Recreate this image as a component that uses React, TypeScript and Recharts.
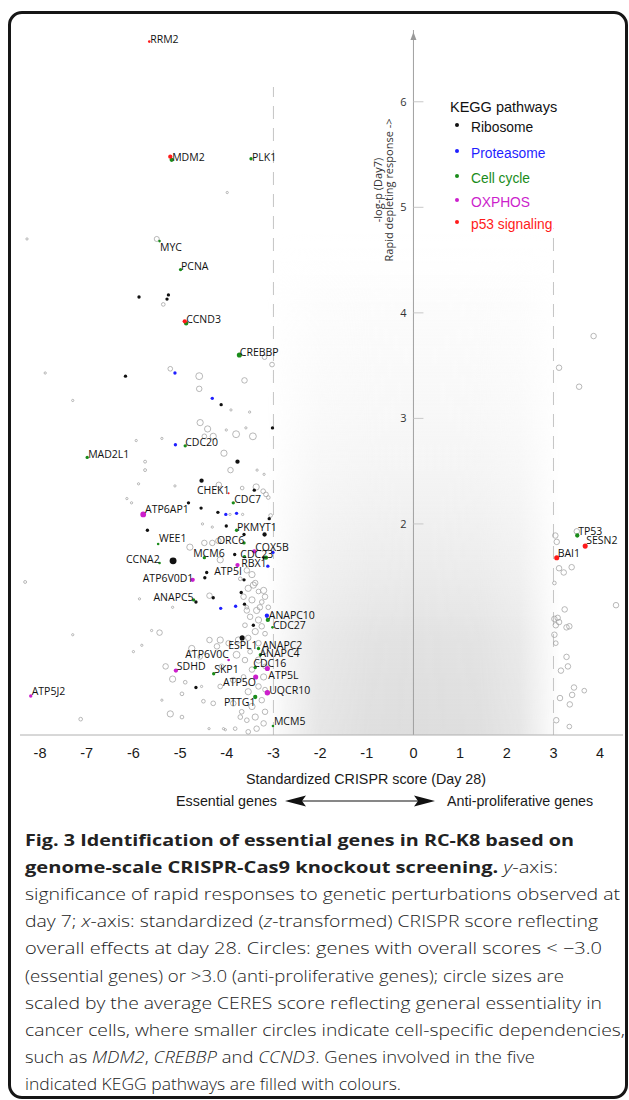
import React from 'react';
import { ScatterChart, Scatter, XAxis, YAxis, ZAxis, ReferenceLine, ReferenceArea, ReferenceDot } from 'recharts';

type P = { x: number; y: number; z: number };

// ---------- data ----------
const xTicks = [-8, -7, -6, -5, -4, -3, -2, -1, 0, 1, 2, 3, 4];
const yTicks = [2, 3, 4, 5, 6];

const pathways = ['Ribosome', 'Proteasome', 'Cell cycle', 'OXPHOS', 'p53 signaling'];

const ribosome: P[] = [
  { x: -5.88, y: 4.15, z: 1.5 }, { x: -5.25, y: 4.17, z: 1.5 }, { x: -5.28, y: 4.13, z: 1.5 },
  { x: -6.17, y: 3.4, z: 1.5 }, { x: -4.12, y: 3.13, z: 1.5 }, { x: -3.02, y: 2.91, z: 1.5 },
  { x: -3.77, y: 2.59, z: 2 }, { x: -4.54, y: 2.41, z: 2 }, { x: -3.41, y: 2.32, z: 1.5 },
  { x: -4.82, y: 2.2, z: 1.5 }, { x: -4.55, y: 2.15, z: 1.5 }, { x: -4.19, y: 2.11, z: 1.5 },
  { x: -3.09, y: 2.05, z: 1.5 }, { x: -4.01, y: 1.98, z: 1.5 }, { x: -5.7, y: 1.94, z: 1.5 },
  { x: -3.19, y: 1.9, z: 2 }, { x: -3.63, y: 1.9, z: 1.5 }, { x: -3.83, y: 1.71, z: 1.5 },
  { x: -5.15, y: 1.65, z: 4 }, { x: -3.2, y: 1.68, z: 1.5 }, { x: -4.43, y: 1.54, z: 1.5 },
  { x: -4.47, y: 1.49, z: 1.5 }, { x: -3.63, y: 1.47, z: 1.5 }, { x: -3.69, y: 1.35, z: 1.5 },
  { x: -4.66, y: 1.26, z: 1.5 }, { x: -4.29, y: 1.3, z: 1.5 }, { x: -3.62, y: 1.24, z: 1.5 },
  { x: -3.43, y: 1.04, z: 1.5 }, { x: -3.67, y: 0.92, z: 2.5 }, { x: -4.66, y: 0.45, z: 1.5 },
];

const proteasome: P[] = [
  { x: -5.11, y: 3.43, z: 1.5 }, { x: -4.31, y: 3.19, z: 1.5 }, { x: -5.1, y: 2.75, z: 1.5 },
  { x: -4.02, y: 2.09, z: 1.5 }, { x: -3.79, y: 2.1, z: 1.5 }, { x: -3.01, y: 1.73, z: 1.5 },
  { x: -3.12, y: 1.6, z: 1.5 }, { x: -4.13, y: 1.2, z: 1.5 }, { x: -3.81, y: 1.22, z: 1.5 },
  { x: -3.14, y: 1.13, z: 2 },
];

const cellCycle: P[] = [
  { x: -5.18, y: 5.45, z: 2 }, { x: -3.48, y: 5.46, z: 1.5 }, { x: -5.44, y: 4.68, z: 1.2 },
  { x: -4.99, y: 4.41, z: 1.5 }, { x: -4.87, y: 3.9, z: 2 }, { x: -3.73, y: 3.6, z: 2.5 },
  { x: -4.89, y: 2.74, z: 1.5 }, { x: -6.99, y: 2.63, z: 1.5 }, { x: -3.86, y: 2.2, z: 1.5 },
  { x: -3.79, y: 1.94, z: 1.5 }, { x: -5.47, y: 1.81, z: 1.2 }, { x: -3.63, y: 1.82, z: 1.5 },
  { x: -4.48, y: 1.68, z: 1.5 }, { x: -3.62, y: 1.69, z: 1.5 }, { x: -3.16, y: 1.68, z: 2 },
  { x: -5.44, y: 1.63, z: 1.2 }, { x: -4.71, y: 1.28, z: 1.5 }, { x: -3.12, y: 1.09, z: 2 },
  { x: -3.02, y: 1.02, z: 1.2 }, { x: -3.32, y: 0.82, z: 1.5 }, { x: -3.28, y: 0.76, z: 1.5 },
  { x: -3.39, y: 0.64, z: 1.5 }, { x: -4.28, y: 0.58, z: 1.5 }, { x: -3.39, y: 0.36, z: 2 },
  { x: -3.01, y: 0.085, z: 1.2 }, { x: 3.51, y: 1.89, z: 2 },
];

const oxphos: P[] = [
  { x: -5.79, y: 2.09, z: 3 }, { x: -3.41, y: 1.74, z: 2 }, { x: -3.77, y: 1.61, z: 2 },
  { x: -4.73, y: 1.47, z: 2 }, { x: -3.96, y: 0.71, z: 1.2 }, { x: -3.13, y: 0.63, z: 2.5 },
  { x: -3.38, y: 0.55, z: 2.5 }, { x: -5.09, y: 0.61, z: 2 }, { x: -8.2, y: 0.37, z: 1.5 },
  { x: -3.13, y: 0.4, z: 2.7 },
];

const p53: P[] = [
  { x: -5.66, y: 6.57, z: 1.2 }, { x: -5.21, y: 5.48, z: 2 }, { x: -4.9, y: 3.92, z: 2 },
  { x: -3.96, y: 2.29, z: 1 }, { x: 3.68, y: 1.79, z: 2.5 }, { x: 3.07, y: 1.68, z: 2.5 },
];

// genes with |score| > 3 outside the five pathways (open circles)
const otherHits: P[] = [
  { x: -5.5, y: 4.7, z: 2.2 }, { x: -3.99, y: 5.14, z: 1 }, { x: -8.28, y: 4.7, z: 1 },
  { x: -5.36, y: 4.08, z: 1.5 }, { x: -3.03, y: 3.51, z: 2 }, { x: -3.19, y: 3.58, z: 2 },
  { x: -7.89, y: 3.43, z: 1 }, { x: -5.21, y: 3.47, z: 2 }, { x: -4.59, y: 3.4, z: 3.5 },
  { x: -3.62, y: 3.36, z: 2.5 }, { x: -4.59, y: 3.28, z: 2.5 }, { x: -7.3, y: 3.17, z: 1 },
  { x: -3.91, y: 3.08, z: 1 }, { x: -3.51, y: 3.06, z: 1 }, { x: -4.57, y: 2.96, z: 3 },
  { x: -4.41, y: 2.9, z: 3 }, { x: -4.29, y: 2.83, z: 3 }, { x: -4.48, y: 2.83, z: 2 },
  { x: -4.01, y: 2.89, z: 1 }, { x: -3.8, y: 2.85, z: 3.5 }, { x: -3.44, y: 2.83, z: 3.5 },
  { x: -3.59, y: 2.91, z: 1 }, { x: -5.94, y: 2.79, z: 1 }, { x: -5.39, y: 2.81, z: 1 },
  { x: -4.06, y: 2.67, z: 3 }, { x: -5.75, y: 2.59, z: 1.2 }, { x: -5.75, y: 2.51, z: 1.2 },
  { x: -3.92, y: 2.51, z: 2.5 }, { x: -3.35, y: 2.51, z: 1 }, { x: -3.2, y: 2.47, z: 1 },
  { x: -5.89, y: 2.38, z: 1 }, { x: -5.11, y: 2.36, z: 1 }, { x: -4.17, y: 2.37, z: 2.5 },
  { x: -3.67, y: 2.34, z: 1.5 }, { x: -3.37, y: 2.35, z: 3 }, { x: -3.22, y: 2.31, z: 2 },
  { x: -3.16, y: 2.28, z: 2 }, { x: -3.11, y: 2.25, z: 1.5 }, { x: -6.14, y: 2.24, z: 1 },
  { x: -6.04, y: 2.2, z: 1 }, { x: -3.06, y: 2.08, z: 1.5 }, { x: -3.93, y: 2.09, z: 1 },
  { x: -3.66, y: 2.09, z: 1 }, { x: -4.52, y: 2.0, z: 1 }, { x: -4.31, y: 1.97, z: 1 },
  { x: -4.79, y: 1.78, z: 3 }, { x: -4.48, y: 1.82, z: 2.5 }, { x: -4.31, y: 1.82, z: 2.5 },
  { x: -4.18, y: 1.84, z: 2.5 }, { x: -4.14, y: 1.66, z: 3 }, { x: -8.32, y: 1.45, z: 1.2 },
  { x: -5.87, y: 1.29, z: 1 }, { x: -5.16, y: 1.21, z: 1 }, { x: -4.37, y: 1.32, z: 2.5 },
  { x: -3.43, y: 1.42, z: 3 }, { x: -3.21, y: 1.37, z: 3 }, { x: -3.57, y: 1.18, z: 2.5 },
  { x: -3.29, y: 1.21, z: 2.5 },
  { x: -3.57, y: 1.56, z: 2.5 }, { x: -3.46, y: 1.52, z: 3 }, { x: -3.71, y: 1.48, z: 1.5 },
  { x: -3.39, y: 1.44, z: 2.5 }, { x: -3.54, y: 1.39, z: 3 }, { x: -3.32, y: 1.36, z: 2 },
  { x: -3.64, y: 1.31, z: 2.5 }, { x: -3.46, y: 1.28, z: 3 }, { x: -3.25, y: 1.26, z: 2 },
  { x: -3.57, y: 1.21, z: 1.5 }, { x: -3.36, y: 1.18, z: 3 }, { x: -3.18, y: 1.31, z: 2.5 },
  { x: -3.11, y: 1.21, z: 2 }, { x: -3.5, y: 1.12, z: 2.5 }, { x: -3.32, y: 1.09, z: 3 },
  { x: -3.61, y: 1.04, z: 2 }, { x: -3.25, y: 1.03, z: 2.5 }, { x: -3.39, y: 0.98, z: 3 },
  { x: -3.18, y: 0.96, z: 2 }, { x: -3.54, y: 0.92, z: 2.5 }, { x: -3.75, y: 0.9, z: 3 },
  { x: -3.96, y: 0.87, z: 2.5 }, { x: -4.14, y: 0.9, z: 3 }, { x: -3.32, y: 0.87, z: 2.5 },
  { x: -3.18, y: 0.8, z: 3 }, { x: -3.5, y: 0.79, z: 2 }, { x: -3.61, y: 0.71, z: 2.5 },
  { x: -3.32, y: 0.71, z: 3 }, { x: -3.18, y: 0.65, z: 2 }, { x: -3.46, y: 0.62, z: 2.5 },
  { x: -3.21, y: 0.55, z: 3 }, { x: -3.64, y: 0.55, z: 2 }, { x: -3.32, y: 0.46, z: 2.5 },
  { x: -3.54, y: 0.41, z: 3 }, { x: -3.18, y: 0.43, z: 2 }, { x: -3.25, y: 0.33, z: 2.5 },
  { x: -3.46, y: 0.27, z: 3 }, { x: -3.68, y: 0.22, z: 2 }, { x: -3.18, y: 0.22, z: 2.5 },
  { x: -3.39, y: 0.17, z: 3 }, { x: -3.57, y: 0.14, z: 2 }, { x: -3.21, y: 0.11, z: 2.5 },
  { x: -3.82, y: 0.06, z: 1.5 }, { x: -4.03, y: 0.05, z: 1 }, { x: -3.36, y: 0.06, z: 2.5 },
  { x: -3.54, y: 0.03, z: 2 },
  { x: -4.37, y: 0.9, z: 2.5 }, { x: -4.21, y: 0.84, z: 2.5 }, { x: -4.57, y: 0.74, z: 2 },
  { x: -4.75, y: 0.82, z: 3 }, { x: -3.79, y: 0.76, z: 3.5 }, { x: -4.11, y: 0.65, z: 2 },
  { x: -3.86, y: 0.52, z: 2.5 }, { x: -4.14, y: 0.46, z: 2 }, { x: -4.5, y: 0.32, z: 1.5 },
  { x: -4.29, y: 0.3, z: 2 }, { x: -3.86, y: 0.3, z: 2.5 }, { x: -3.71, y: 0.17, z: 2 },
  { x: -4.07, y: 0.06, z: 1 }, { x: -4.38, y: 0.06, z: 1 }, { x: -4.96, y: 0.17, z: 1.5 },
  { x: -4.89, y: 0.5, z: 1.5 }, { x: -5.16, y: 0.53, z: 3 }, { x: -5.31, y: 0.65, z: 2.5 },
  { x: -5.21, y: 0.2, z: 3 }, { x: -5.44, y: 0.97, z: 2.5 }, { x: -5.61, y: 0.99, z: 1 },
  { x: -5.82, y: 0.85, z: 1 }, { x: -6.0, y: 0.79, z: 1 }, { x: -7.3, y: 0.95, z: 1 },
  { x: -7.13, y: 0.15, z: 1.5 }, { x: -4.96, y: 0.39, z: 1.5 }, { x: -5.39, y: 0.33, z: 1 },
  { x: -4.54, y: 0.46, z: 1 },
  { x: 3.86, y: 3.78, z: 2.5 }, { x: 3.12, y: 3.48, z: 2.5 }, { x: 3.55, y: 3.3, z: 2.5 },
  { x: 3.04, y: 1.89, z: 2.5 }, { x: 3.07, y: 1.83, z: 2.5 }, { x: 3.5, y: 1.93, z: 2.5 },
  { x: 3.12, y: 1.58, z: 2.5 }, { x: 3.22, y: 1.54, z: 2.5 }, { x: 3.39, y: 1.59, z: 2.5 },
  { x: 3.02, y: 1.44, z: 1.5 }, { x: 4.34, y: 1.23, z: 2.5 }, { x: 3.24, y: 1.19, z: 2.5 },
  { x: 3.02, y: 1.1, z: 2.5 }, { x: 3.09, y: 1.11, z: 2.5 }, { x: 3.12, y: 1.07, z: 2.5 },
  { x: 3.05, y: 1.04, z: 2.5 }, { x: 3.28, y: 1.02, z: 2.5 }, { x: 3.34, y: 1.03, z: 2.5 },
  { x: 3.02, y: 0.95, z: 2.5 }, { x: 3.05, y: 0.87, z: 2 }, { x: 3.28, y: 0.74, z: 2.5 },
  { x: 3.31, y: 0.65, z: 2.5 }, { x: 3.16, y: 0.61, z: 2.5 }, { x: 3.44, y: 0.45, z: 2.5 },
  { x: 3.66, y: 0.42, z: 2 }, { x: 3.4, y: 0.38, z: 2.5 }, { x: 3.14, y: 0.35, z: 2.5 },
  { x: 3.35, y: 0.29, z: 2.5 }, { x: 3.06, y: 0.14, z: 2.5 }, { x: 3.34, y: 0.08, z: 2 },
];

// gene names, anchored at the start of each label (data coordinates)
const geneLabels = [
  { name: 'RRM2', x: -5.64, y: 6.59 }, { name: 'MDM2', x: -5.17, y: 5.47 },
  { name: 'PLK1', x: -3.46, y: 5.47 }, { name: 'MYC', x: -5.43, y: 4.62 },
  { name: 'PCNA', x: -4.98, y: 4.44 }, { name: 'CCND3', x: -4.87, y: 3.94 },
  { name: 'CREBBP', x: -3.72, y: 3.63 }, { name: 'CDC20', x: -4.89, y: 2.77 },
  { name: 'MAD2L1', x: -6.97, y: 2.66 }, { name: 'CHEK1', x: -4.64, y: 2.32 },
  { name: 'CDC7', x: -3.84, y: 2.23 }, { name: 'ATP6AP1', x: -5.75, y: 2.14 },
  { name: 'PKMYT1', x: -3.78, y: 1.97 }, { name: 'WEE1', x: -5.45, y: 1.86 },
  { name: 'ORC6', x: -4.21, y: 1.84 }, { name: 'COX5B', x: -3.39, y: 1.78 },
  { name: 'MCM6', x: -4.72, y: 1.72 }, { name: 'CDC23', x: -3.71, y: 1.71 },
  { name: 'CCNA2', x: -6.16, y: 1.66 }, { name: 'RBX1', x: -3.69, y: 1.63 },
  { name: 'ATP5I', x: -4.27, y: 1.55 }, { name: 'ATP6V0D1', x: -5.8, y: 1.48 },
  { name: 'ANAPC5', x: -5.57, y: 1.3 }, { name: 'ANAPC10', x: -3.1, y: 1.13 },
  { name: 'CDC27', x: -3.01, y: 1.04 }, { name: 'ESPL1', x: -3.97, y: 0.85 },
  { name: 'ANAPC2', x: -3.24, y: 0.85 }, { name: 'ATP6V0C', x: -4.89, y: 0.76 },
  { name: 'ANAPC4', x: -3.3, y: 0.77 }, { name: 'CDC16', x: -3.43, y: 0.68 },
  { name: 'SDHD', x: -5.07, y: 0.65 }, { name: 'SKP1', x: -4.27, y: 0.62 },
  { name: 'ATP5L', x: -3.11, y: 0.57 }, { name: 'ATP5O', x: -4.08, y: 0.5 },
  { name: 'UQCR10', x: -3.09, y: 0.42 }, { name: 'ATP5J2', x: -8.18, y: 0.41 },
  { name: 'PTTG1', x: -4.06, y: 0.31 }, { name: 'MCM5', x: -2.99, y: 0.13 },
  { name: 'TP53', x: 3.53, y: 1.93 }, { name: 'SESN2', x: 3.7, y: 1.84 },
  { name: 'BAI1', x: 3.09, y: 1.72 },
];

const yTickData = yTicks.map((v) => ({ x: 0, y: v }));

type Seg = { t: string; b?: boolean; i?: boolean };
const captionLines: Seg[][] = [
  [{ t: 'Fig. 3 Identification of essential genes in RC-K8 based on', b: true }],
  [{ t: 'genome-scale CRISPR-Cas9 knockout screening.', b: true }, { t: ' ' }, { t: 'y', i: true }, { t: '-axis:' }],
  [{ t: 'significance of rapid responses to genetic perturbations observed at' }],
  [{ t: 'day 7; ' }, { t: 'x', i: true }, { t: '-axis: standardized (' }, { t: 'z', i: true }, { t: '-transformed) CRISPR score reflecting' }],
  [{ t: 'overall effects at day 28. Circles: genes with overall scores < \u22123.0' }],
  [{ t: '(essential genes) or >3.0 (anti-proliferative genes); circle sizes are' }],
  [{ t: 'scaled by the average CERES score reflecting general essentiality in' }],
  [{ t: 'cancer cells, where smaller circles indicate cell-specific dependencies,' }],
  [{ t: 'such as ' }, { t: 'MDM2', i: true }, { t: ', ' }, { t: 'CREBBP', i: true }, { t: ' and ' }, { t: 'CCND3', i: true }, { t: '. Genes involved in the five' }],
  [{ t: 'indicated KEGG pathways are filled with colours.' }],
];

// ---------- layout / style ----------
const COLORS = ['#111111', '#1f1fff', '#1a8c1a', '#cc1fcc', '#ff1a1a'];
const captionWidths = [549, 533, 595, 573, 577, 539, 577, 600, 510, 376];
const LABEL_FONT = "'Open Sans', 'DejaVu Sans', sans-serif";
const ARIAL = "'Liberation Sans', Arial, sans-serif";
const CAP_FONT = "'Open Sans', 'Noto Sans', sans-serif";

const series = [ribosome, proteasome, cellCycle, oxphos, p53];

const LabelShape = (p: any) => (
  <text x={p.cx} y={p.cy} dy="0.35em" fontSize={10.5} fontFamily={LABEL_FONT} fill="#111">
    {p.payload.name}
  </text>
);

const YTickShape = (p: any) => (
  <g>
    <line x1={p.cx} x2={p.cx + 10} y1={p.cy} y2={p.cy} stroke="#c8c8c8" strokeWidth={1} />
    <text x={p.cx - 7} y={p.cy} dy="0.36em" textAnchor="end" fontSize={11} fontFamily={LABEL_FONT} fill="#333">
      {p.payload.y}
    </text>
  </g>
);

const ArrowHead = (p: any) => (
  <path d={`M${p.cx},${p.cy} L${p.cx - 3},${p.cy + 8} L${p.cx + 3},${p.cy + 8} Z`} fill="#999" />
);

// background density of all other genes: vertical fade masked by a horizontal fade
const CloudShape = (p: any) => (
  <rect x={p.x} y={p.y} width={p.width} height={p.height} fill="url(#cloudV)" mask="url(#cloudMask)" />
);

export default function App() {
  return (
    <div style={{ position: 'absolute', left: 0, top: 0, width: 629, height: 1100, background: '#fff', overflow: 'hidden' }}>
      <svg width={0} height={0} style={{ position: 'absolute' }}>
        <defs>
          <linearGradient id="cloudV" x1="0" y1="1" x2="0" y2="0">
            <stop offset="0" stopColor="#dadada" stopOpacity={0.92} />
            <stop offset="0.18" stopColor="#dcdcdc" stopOpacity={0.85} />
            <stop offset="0.35" stopColor="#e4e4e4" stopOpacity={0.68} />
            <stop offset="0.6" stopColor="#eeeeee" stopOpacity={0.48} />
            <stop offset="0.85" stopColor="#f4f4f4" stopOpacity={0.32} />
            <stop offset="1" stopColor="#ffffff" stopOpacity={0} />
          </linearGradient>
          <linearGradient id="cloudH" x1="0" y1="0" x2="1" y2="0">
            <stop offset="0" stopColor="#000" />
            <stop offset="0.06" stopColor="#444" />
            <stop offset="0.18" stopColor="#bbb" />
            <stop offset="0.35" stopColor="#f0f0f0" />
            <stop offset="0.52" stopColor="#fff" />
            <stop offset="0.72" stopColor="#f0f0f0" />
            <stop offset="0.86" stopColor="#bbb" />
            <stop offset="0.95" stopColor="#444" />
            <stop offset="1" stopColor="#000" />
          </linearGradient>
          <mask id="cloudMask" maskUnits="objectBoundingBox" maskContentUnits="objectBoundingBox" x="0" y="0" width="1" height="1">
            <rect x="0" y="0" width="1" height="1" fill="url(#cloudH)" />
          </mask>
        </defs>
      </svg>

      <div style={{ position: 'absolute', left: 0, top: 0 }}>
        <ScatterChart width={629} height={770} margin={{ top: 30, right: 6, bottom: 0, left: 20 }}>
          <XAxis
            type="number"
            dataKey="x"
            domain={[-8.43, 4.49]}
            ticks={xTicks}
            interval={0}
            allowDataOverflow
            height={35}
            tickLine={false}
            tickMargin={7}
            axisLine={{ stroke: '#b0b0b0' }}
            tick={{ fontSize: 14.5, fontFamily: ARIAL, fill: '#1a1a1a' }}
          />
          <YAxis type="number" dataKey="y" domain={[0, 6.68]} allowDataOverflow hide />
          <ZAxis type="number" dataKey="z" domain={[1, 4]} range={[4, 44]} />
          <ZAxis zAxisId="c" type="number" dataKey="z" domain={[1, 4]} range={[3, 38]} />

          <ReferenceArea x1={-3.15} x2={3.15} y1={0} y2={4.8} shape={CloudShape} ifOverflow="hidden" />

          <ReferenceLine segment={[{ x: -3, y: 0 }, { x: -3, y: 6.14 }]} stroke="#c4c4c4" strokeDasharray="13 9" />
          <ReferenceLine segment={[{ x: 3, y: 0 }, { x: 3, y: 4.8 }]} stroke="#c4c4c4" strokeDasharray="13 9" />
          <ReferenceLine x={0} stroke="#a0a0a0" />
          <ReferenceDot x={0} y={6.66} shape={ArrowHead} ifOverflow="visible" />

          <Scatter data={yTickData} shape={YTickShape} isAnimationActive={false} />

          <Scatter data={otherHits} fill="none" stroke="#a0a0a0" strokeWidth={0.75} isAnimationActive={false} />
          {series.map((d, i) => (
            <Scatter key={pathways[i]} zAxisId="c" data={d} fill={COLORS[i]} isAnimationActive={false} />
          ))}

          <Scatter data={geneLabels} shape={LabelShape} isAnimationActive={false} />
        </ScatterChart>
      </div>

      <svg width={629} height={1100} style={{ position: 'absolute', left: 0, top: 0, pointerEvents: 'none' }}>
        {/* y axis title */}
        <g fontFamily={LABEL_FONT} fontSize={11} fill="#333" textAnchor="middle">
          <text transform="translate(378,190) rotate(-90)" dy="0.35em">-log-p (Day7)</text>
          <text transform="translate(389,190) rotate(-90)" dy="0.35em">Rapid depleting response -&gt;</text>
        </g>

        {/* legend */}
        <text x={450} y={112} fontFamily={ARIAL} fontSize={14.5} fill="#111">KEGG pathways</text>
        {pathways.map((name, i) => {
          const cy = [127, 153, 178, 202, 224][i];
          return (
            <g key={name}>
              <circle cx={457} cy={cy - 2} r={2} fill={COLORS[i]} />
              <text x={471} y={cy + 5} fontFamily={ARIAL} fontSize={13.8} fill={COLORS[i]}>{name}</text>
            </g>
          );
        })}

        {/* x axis title and direction arrows */}
        <g fontFamily={ARIAL} fontSize={14.3} fill="#1a1a1a">
          <text x={366} y={784} textAnchor="middle">Standardized CRISPR score (Day 28)</text>
          <text x={277} y={806} textAnchor="end">Essential genes</text>
          <text x={447} y={806}>Anti-proliferative genes</text>
        </g>
        <line x1={300} x2={420} y1={801} y2={801} stroke="#111" strokeWidth={1.2} />
        <path d="M285,801 L306,795.5 L302,801 L306,806.5 Z" fill="#111" />
        <path d="M435,801 L414,795.5 L418,801 L414,806.5 Z" fill="#111" />

        {/* caption */}
        <g fontFamily={CAP_FONT} fontSize={16.5} fill="#222">
          {captionLines.map((segs, i) => (
            <text key={i} x={25} y={846 + i * 27.1} textLength={captionWidths[i]} lengthAdjust="spacingAndGlyphs">
              {segs.map((s, j) => (
                <tspan key={j} fontWeight={s.b ? 700 : 300} fontStyle={s.i ? 'italic' : 'normal'}>{s.t}</tspan>
              ))}
            </text>
          ))}
        </g>
      </svg>

      <div
        style={{
          position: 'absolute', left: 8, top: 11, width: 620, height: 1088,
          border: '3px solid #161616', borderRadius: 14, boxSizing: 'border-box', pointerEvents: 'none',
        }}
      />
    </div>
  );
}
